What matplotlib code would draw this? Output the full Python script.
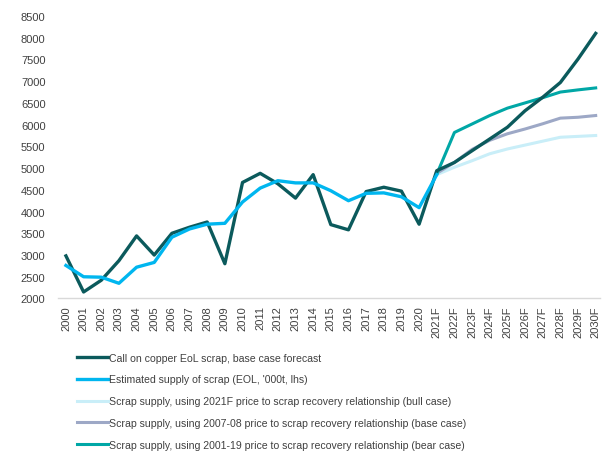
import matplotlib
matplotlib.use("Agg")
import matplotlib.pyplot as plt

years = ["2000", "2001", "2002", "2003", "2004", "2005", "2006", "2007", "2008",
         "2009", "2010", "2011", "2012", "2013", "2014", "2015", "2016", "2017",
         "2018", "2019", "2020", "2021F", "2022F", "2023F", "2024F", "2025F",
         "2026F", "2027F", "2028F", "2029F", "2030F"]

# Call on copper end-of-life scrap, base case
call_on_scrap = [2980, 2150, 2420, 2870, 3440, 3000, 3500, 3640, 3760, 2800,
                 4670, 4880, 4640, 4310, 4850, 3700, 3580, 4460, 4560, 4470,
                 3710, 4940, 5130, 5400, 5670, 5940, 6320, 6630, 6970, 7510, 8100]

# Estimated supply of scrap (EOL, '000t)
est_supply = [2760, 2500, 2490, 2350, 2720, 2830, 3410, 3600, 3710, 3730,
              4220, 4540, 4710, 4660, 4660, 4480, 4250, 4420, 4430, 4340,
              4090, 4850]

# Scenario supply curves from 2021F onwards
bull_case = [4850, 5020, 5170, 5330, 5440, 5530, 5620, 5710, 5730, 5750]
base_case = [4880, 5130, 5430, 5640, 5790, 5900, 6020, 6150, 6170, 6210]
bear_case = [4860, 5820, 6015, 6210, 6380, 6500, 6620, 6750, 6800, 6845]

labels = [
    "Call on copper EoL scrap, base case forecast",
    "Estimated supply of scrap (EOL, '000t, lhs)",
    "Scrap supply, using 2021F price to scrap recovery relationship (bull case)",
    "Scrap supply, using 2007-08 price to scrap recovery relationship (base case)",
    "Scrap supply, using 2001-19 price to scrap recovery relationship (bear case)",
]

plt.rcParams["font.family"] = ["Liberation Sans", "DejaVu Sans"]

fig = plt.figure(figsize=(6.08, 4.52), dpi=100)
ax = fig.add_axes([0.0954, 0.3374, 0.8916, 0.625])

x_all = list(range(len(years)))
x_fc = x_all[21:]

ax.plot(x_fc, bull_case, color="#C9EEF8", lw=2.2, label=labels[2], zorder=2)
ax.plot(x_fc, base_case, color="#9DA8C6", lw=2.2, label=labels[3], zorder=3)
ax.plot(x_fc, bear_case, color="#00A7A6", lw=2.2, label=labels[4], zorder=4)
ax.plot(x_all, call_on_scrap, color="#0B5A5C", lw=2.4, label=labels[0], zorder=5)
ax.plot(x_all[:len(est_supply)], est_supply, color="#00B6EF", lw=2.4,
        label=labels[1], zorder=6)

ax.set_xlim(-0.45, 30.25)
ax.set_ylim(2000, 8500)
ax.set_yticks(range(2000, 8501, 500))
ax.set_xticks(x_all)
ax.set_xticklabels(years, rotation=90)

for s in ["top", "right", "left"]:
    ax.spines[s].set_visible(False)
ax.spines["bottom"].set_color("#D9D9D9")
ax.spines["bottom"].set_linewidth(1.0)
ax.tick_params(axis="both", length=0, labelsize=8, colors="#404040")
ax.tick_params(axis="y", pad=9)
ax.tick_params(axis="x", pad=5)

# legend in the order the series are listed, stacked under the axis
handles, labs = ax.get_legend_handles_labels()
pairs = sorted(zip([labels.index(l) for l in labs], handles, labs))
leg = fig.legend([p[1] for p in pairs], [p[2] for p in pairs],
                 loc="upper left", bbox_to_anchor=(0.12, 0.227),
                 frameon=False, handlelength=2.9, handletextpad=0.1,
                 labelspacing=1.12, borderaxespad=0,
                 prop={"size": 7.6})
for t in leg.get_texts():
    t.set_color("#404040")

fig.savefig("out.png", dpi=100)
